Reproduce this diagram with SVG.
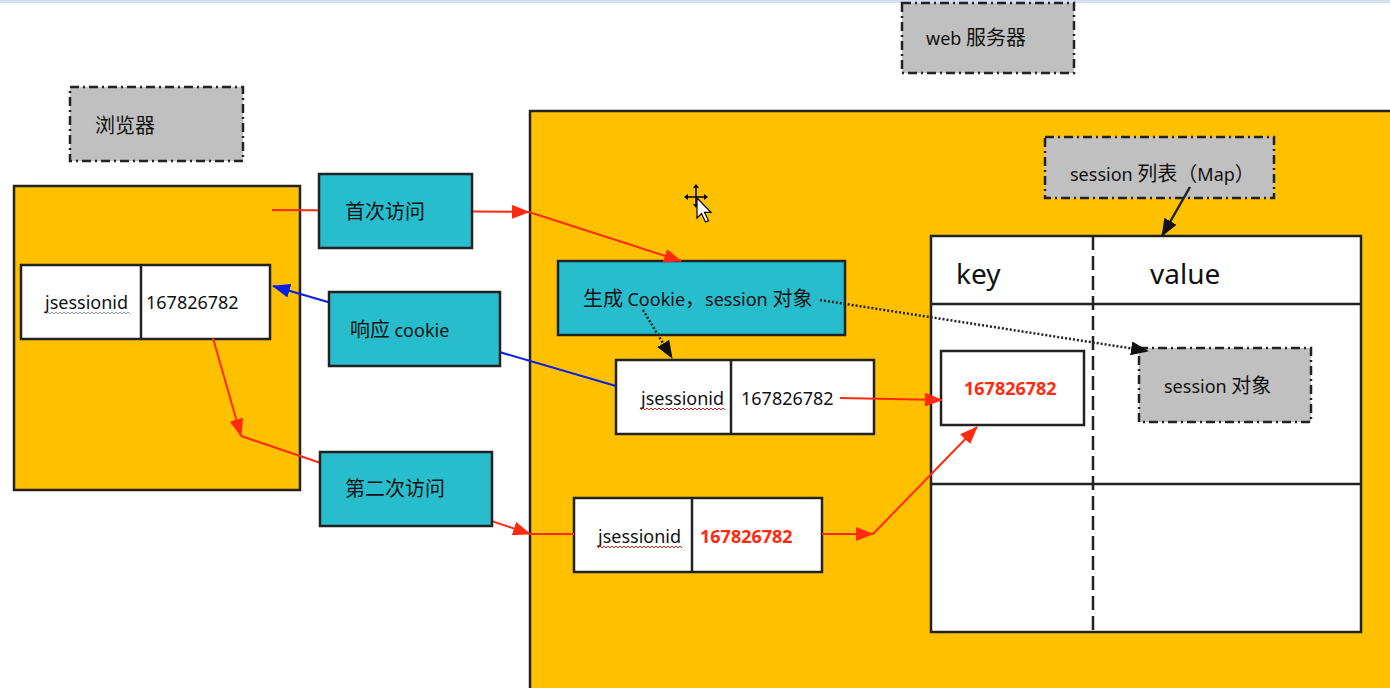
<svg xmlns="http://www.w3.org/2000/svg" width="1390" height="688" viewBox="0 0 1390 688">
<style>
.t{font-family:"Noto Sans","Noto Sans CJK SC",sans-serif;font-size:18px;fill:#111}
.c{font-family:"Noto Sans CJK SC",sans-serif;font-size:20px}
.big{font-size:28px}
.red{fill:#ff2a10;font-weight:bold}
.yel{fill:#ffc000;stroke:#222;stroke-width:2.5}
.teal{fill:#27bdcd;stroke:#222;stroke-width:2.5}
.gray{fill:#c0c0c0;stroke:#222;stroke-width:2.5;stroke-dasharray:9 4 2 4}
.wh{fill:#fff;stroke:#222;stroke-width:2.5}
.ln{stroke:#222;stroke-width:2.5;fill:none}
.rl{stroke:#ff2a10;stroke-width:2;fill:none}
.bl{stroke:#0a1ee6;stroke-width:2;fill:none}
.dot{stroke:#222;stroke-width:2.5;stroke-dasharray:2 2;fill:none}
.sq{fill:none;stroke-width:1}
</style>
<defs>
<marker id="ar" markerWidth="18" markerHeight="14" refX="17" refY="7" orient="auto" markerUnits="userSpaceOnUse"><path d="M0,0 L18,7 L0,14 z" fill="#ff2a10"/></marker>
<marker id="ab" markerWidth="18" markerHeight="14" refX="17" refY="7" orient="auto" markerUnits="userSpaceOnUse"><path d="M0,0 L18,7 L0,14 z" fill="#0a1ee6"/></marker>
<marker id="ak" markerWidth="18" markerHeight="14" refX="17" refY="7" orient="auto" markerUnits="userSpaceOnUse"><path d="M0,0 L18,7 L0,14 z" fill="#111"/></marker>
</defs>
<rect x="0" y="0" width="1390" height="688" fill="#fff"/>
<rect x="0" y="0" width="1390" height="3" fill="#d3deee"/>

<g id="browser-label"><rect class="gray" x="70" y="87" width="173" height="74"/><text class="t" x="95" y="133"><tspan class="c">浏览器</tspan></text></g>
<g id="browser"><rect class="yel" x="14" y="186" width="286" height="304"/></g>
<g id="browser-cookie"><rect class="wh" x="21" y="265" width="249" height="74"/><line class="ln" x1="141" y1="265" x2="141" y2="339"/><text class="t" x="45" y="309">jsessionid</text><path class="sq" stroke="#8899aa" d="M46,314 l2,-2 2,2 2,-2 2,2 2,-2 2,2 2,-2 2,2 2,-2 2,2 2,-2 2,2 2,-2 2,2 2,-2 2,2 2,-2 2,2 2,-2 2,2 2,-2 2,2 2,-2 2,2 2,-2 2,2 2,-2 2,2 2,-2 2,2 2,-2 2,2 2,-2 2,2 2,-2 2,2 2,-2 2,2 2,-2 2,2 2,-2 2,2"/><text class="t" x="146" y="309">167826782</text></g>

<g id="server-label"><rect class="gray" x="902" y="3" width="172" height="70"/><text class="t" x="926" y="45">web <tspan class="c">服务器</tspan></text></g>
<g id="server"><rect class="yel" x="530" y="111" width="862" height="590"/></g>
<g id="session-list-label"><rect class="gray" x="1045" y="137" width="229" height="61"/><text class="t" x="1070" y="181">session <tspan class="c">列表（</tspan>Map<tspan class="c">）</tspan></text></g>
<g id="session-table"><rect class="wh" x="931" y="236" width="430" height="396"/><line class="ln" x1="931" y1="304" x2="1361" y2="304"/><line class="ln" x1="931" y1="484" x2="1361" y2="484"/><line class="ln" x1="1093" y1="236" x2="1093" y2="632" stroke-dasharray="14 6"/><text class="t big" x="956" y="284">key</text><text class="t big" x="1150" y="284">value</text></g>
<g id="key-cell"><rect class="wh" x="941" y="351" width="143" height="74"/><text class="t red" x="964" y="395">167826782</text></g>
<g id="session-object"><rect class="gray" x="1139" y="348" width="172" height="74"/><text class="t" x="1164" y="393">session <tspan class="c">对象</tspan></text></g>
<g id="create-box"><rect class="teal" x="558" y="261" width="287" height="74"/><text class="t" x="583" y="306"><tspan class="c">生成 </tspan>Cookie<tspan class="c">，</tspan>session <tspan class="c">对象</tspan></text></g>
<g id="server-cookie"><rect class="wh" x="616" y="360" width="258" height="74"/><line class="ln" x1="731" y1="360" x2="731" y2="434"/><text class="t" x="641" y="405">jsessionid</text><path class="sq" stroke="#e02020" d="M641,410 l2,-2 2,2 2,-2 2,2 2,-2 2,2 2,-2 2,2 2,-2 2,2 2,-2 2,2 2,-2 2,2 2,-2 2,2 2,-2 2,2 2,-2 2,2 2,-2 2,2 2,-2 2,2 2,-2 2,2 2,-2 2,2 2,-2 2,2 2,-2 2,2 2,-2 2,2 2,-2 2,2 2,-2 2,2 2,-2 2,2 2,-2 2,2"/><text class="t" x="741" y="405">167826782</text></g>
<g id="request-cookie"><rect class="wh" x="574" y="498" width="248" height="74"/><line class="ln" x1="692" y1="498" x2="692" y2="572"/><text class="t" x="598" y="543">jsessionid</text><path class="sq" stroke="#e02020" d="M598,548 l2,-2 2,2 2,-2 2,2 2,-2 2,2 2,-2 2,2 2,-2 2,2 2,-2 2,2 2,-2 2,2 2,-2 2,2 2,-2 2,2 2,-2 2,2 2,-2 2,2 2,-2 2,2 2,-2 2,2 2,-2 2,2 2,-2 2,2 2,-2 2,2 2,-2 2,2 2,-2 2,2 2,-2 2,2 2,-2 2,2 2,-2 2,2"/><text class="t red" x="700" y="543">167826782</text></g>

<g id="connectors">
<line class="rl" x1="272" y1="210" x2="529" y2="212" marker-end="url(#ar)"/>
<line class="rl" x1="529" y1="212" x2="681" y2="261" marker-end="url(#ar)"/>
<line class="bl" x1="616" y1="386" x2="273" y2="286" marker-end="url(#ab)"/>
<line class="rl" x1="213" y1="338" x2="241" y2="436" marker-end="url(#ar)"/>
<line class="rl" x1="241" y1="436" x2="530" y2="534" marker-end="url(#ar)"/>
<line class="rl" x1="530" y1="534" x2="574" y2="534"/>
<line class="rl" x1="822" y1="534" x2="873" y2="534" marker-end="url(#ar)"/>
<line class="rl" x1="873" y1="534" x2="977" y2="427" marker-end="url(#ar)"/>
<line class="rl" x1="840" y1="398" x2="942" y2="400" marker-end="url(#ar)"/>
<line class="dot" x1="643" y1="310" x2="672" y2="358" marker-end="url(#ak)"/>
<line class="dot" x1="820" y1="300" x2="1148" y2="351" marker-end="url(#ak)"/>
<line class="ln" stroke-width="2" x1="1190" y1="187" x2="1162" y2="236" marker-end="url(#ak)"/>
</g>

<g id="first-visit"><rect class="teal" x="319" y="174" width="153" height="74"/><text class="t" x="345" y="219"><tspan class="c">首次访问</tspan></text></g>
<g id="response-cookie"><rect class="teal" x="329" y="292" width="171" height="74"/><text class="t" x="350" y="337"><tspan class="c">响应 </tspan>cookie</text></g>
<g id="second-visit"><rect class="teal" x="320" y="452" width="172" height="74"/><text class="t" x="345" y="496"><tspan class="c">第二次访问</tspan></text></g>

<g id="cursor" stroke="#000" stroke-width="1.5" fill="#000">
<line x1="687" y1="197" x2="705" y2="197"/><line x1="696" y1="187" x2="696" y2="205"/>
<path d="M684,197 l4,-3 v6 z M708,197 l-4,-3 v6 z M696,184 l-3,4 h6 z M696,208 l-3,-4 h6 z" stroke="none"/>
<path d="M697,198 v20 l4.5,-4.5 l4,8.5 l3,-1.4 l-4,-8.3 h6.5 z" fill="#fff" stroke-width="1.2"/>
</g>
</svg>
